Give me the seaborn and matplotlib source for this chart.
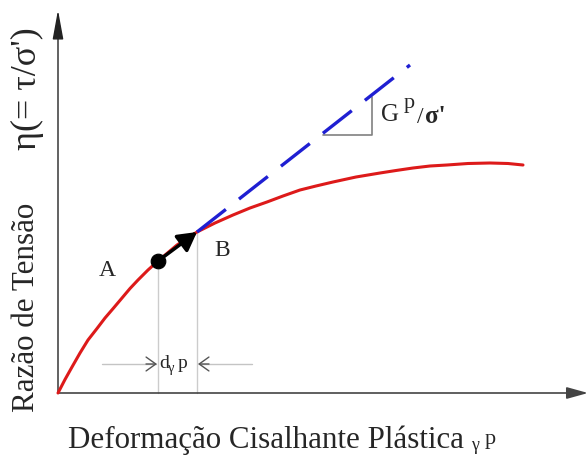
import matplotlib
matplotlib.use("Agg")
import matplotlib.pyplot as plt
import seaborn as sns
import pandas as pd

# Stress-ratio curve eta(gamma_p), schematic units
gamma_p = [0, 7, 14, 22, 30, 39, 47, 56, 64, 72, 80, 90, 100, 119, 139, 157,
           175, 192, 209, 225, 242, 258, 275, 298, 322, 338, 355, 372, 389,
           410, 432, 450, 465]
eta = [0, 13.5, 26, 40, 53, 64.5, 75, 85.5, 95, 104.5, 113, 123, 132, 148, 161,
       170, 178, 185, 191, 197, 203, 207, 211, 216, 220, 222.5, 225, 227, 228,
       229.5, 230, 229.5, 228]

# Points A and B on the curve
point_a = (100, 132)
point_b = (139, 161)

# Tangent (plastic modulus G^p/sigma') starting at B
tangent_x = [139, 352]
tangent_y = [161, 328]

sns.set_theme(style="white")
plt.rcParams["font.family"] = ["Liberation Serif", "DejaVu Serif"]

fig = plt.figure(figsize=(5.88, 4.57), dpi=100)
ax = fig.add_axes([0, 0, 1, 1])
ax.set_xlim(-58, 530)
ax.set_ylim(-64, 393)
ax.axis("off")

curve = pd.DataFrame({"gamma": gamma_p, "eta": eta})
tangent = pd.DataFrame({"gamma": tangent_x, "eta": tangent_y})

# Axes with arrowheads
ax.annotate("", xy=(530, 0), xytext=(0, 0),
            arrowprops=dict(arrowstyle="-|>,head_length=1.3,head_width=0.36",
                            mutation_scale=10, color="#444444", lw=1.2,
                            shrinkA=0, shrinkB=0))
ax.annotate("", xy=(0, 383), xytext=(0, 0),
            arrowprops=dict(arrowstyle="-|>,head_length=1.8,head_width=0.33",
                            mutation_scale=10, color="#222222", lw=1.0,
                            shrinkA=0, shrinkB=0))

# Projection lines from A and B to the strain axis
ax.plot([point_a[0], point_a[0]], [0, point_a[1]], color="#cccccc", lw=1.0, zorder=1)
ax.plot([point_b[0], point_b[0]], [0, point_b[1]], color="#cccccc", lw=1.0, zorder=1)

# Strain increment dimension arrows
dim_y = 29
ax.plot([44, point_a[0] - 2], [dim_y, dim_y], color="#c4c4c4", lw=1.0)
ax.plot([point_b[0] + 2, 194], [dim_y, dim_y], color="#c4c4c4", lw=1.0)
ax.annotate("", xy=(point_a[0] - 1, dim_y), xytext=(point_a[0] - 12, dim_y),
            arrowprops=dict(arrowstyle="->,head_length=0.7,head_width=0.5",
                            mutation_scale=10, color="#555555", lw=1.0,
                            shrinkA=0, shrinkB=0))
ax.annotate("", xy=(point_b[0] + 1, dim_y), xytext=(point_b[0] + 12, dim_y),
            arrowprops=dict(arrowstyle="->,head_length=0.7,head_width=0.5",
                            mutation_scale=10, color="#555555", lw=1.0,
                            shrinkA=0, shrinkB=0))

# Slope triangle
ax.plot([265, 314, 314], [258, 258, 296], color="#808080", lw=1.2, zorder=1)

# Curve and tangent
sns.lineplot(data=curve, x="gamma", y="eta", ax=ax, color="#dd1a1a", lw=2.2,
             sort=False, estimator=None, zorder=3)
sns.lineplot(data=tangent, x="gamma", y="eta", ax=ax, color="#1f1fd2", lw=2.4,
             sort=False, estimator=None, zorder=3, dashes=False,
             linestyle=(0, (11, 5)))
ax.lines[-1].set_dash_capstyle("butt")
ax.lines[-2].set_solid_joinstyle("round")

# Increment A -> B
ax.annotate("", xy=point_b, xytext=point_a,
            arrowprops=dict(arrowstyle="-|>,head_length=0.45,head_width=0.25",
                            mutation_scale=25, color="black", lw=2.5,
                            shrinkA=0, shrinkB=0), zorder=5)
sns.scatterplot(x=[point_a[0]], y=[point_a[1]], ax=ax, color="black", s=110,
                edgecolor="black", zorder=6)

ax.set_xlabel("")
ax.set_ylabel("")

# Point labels
ax.text(49, 123, "A", fontsize=17, ha="center", va="center")
ax.text(164, 143, "B", fontsize=17, ha="center", va="center")

# d gamma^p label
ax.text(101, 25, "d", fontsize=14, ha="left", va="baseline")
ax.text(110, 21, "γ", fontsize=10.5, ha="left", va="baseline")
ax.text(119.5, 25, "p", fontsize=14, ha="left", va="baseline")

# G^p / sigma' label
ax.text(323, 272, "G", fontsize=18, ha="left", va="baseline")
ax.text(346, 285, "p", fontsize=16, ha="left", va="baseline")
ax.text(359, 270, "/", fontsize=17, ha="left", va="baseline")
ax.text(367, 270, "σ'", fontsize=18, ha="left", va="baseline", fontweight="bold")

# Axis titles
ax.text(-31, -19, "Razão de Tensão", fontsize=22.3, rotation=90,
        ha="left", va="center", rotation_mode="anchor")
ax.text(-31, 243, "η(= τ/σ')", fontsize=26, rotation=90,
        ha="left", va="center", rotation_mode="anchor")
ax.text(10, -55, "Deformação Cisalhante Plástica", fontsize=22.3, ha="left",
        va="baseline")
ax.text(413, -57, "γ", fontsize=13, ha="left", va="baseline")
ax.text(427, -51, "p", fontsize=16, ha="left", va="baseline")

fig.savefig("out.png", dpi=100)
